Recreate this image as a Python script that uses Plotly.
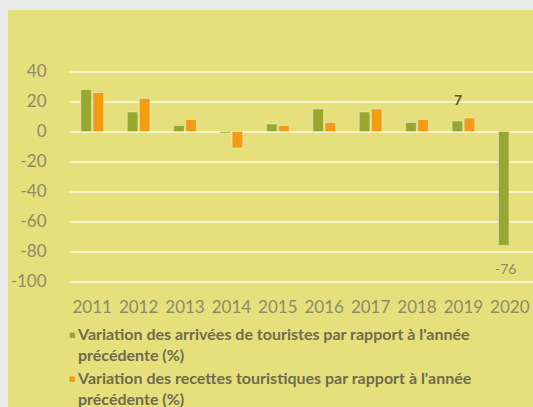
import plotly.graph_objects as go

# Tourism indicators, year-on-year change (%)
years = ["2011", "2012", "2013", "2014", "2015", "2016", "2017", "2018", "2019", "2020"]
arrivals_change = [28, 13, 4, -1, 5, 15, 13, 6, 7, -76]
receipts_change = [26, 22, 8, -11, 4, 6, 15, 8, 9, None]

y_ticks = [40, 20, 0, -20, -40, -60, -80, -100]
y_tick_text = ["40", "20", "0", "-20", "-40", "-60", "-80", "-100"]

legend_arrivals = "Variation des arrivées de touristes par rapport à l'année<br>précédente (%)"
legend_receipts = "Variation des recettes touristiques par rapport à l'année<br>précédente (%)"

GREEN = "#98a82e"
ORANGE = "#f39c12"
PANEL = "#e5e07c"
TICK_COLOR = "#8d8b66"
TEXT_COLOR = "#6e6c4c"
FONT = "Lato"

# plot-area geometry in pixels, used to place the hand-drawn legend
L, T, B, H = 69, 64, 118, 407
PLOT_W, PLOT_H = 533 - L, H - T - B


def px_to_paper(px, py):
    return (px - L) / PLOT_W, (H - B - py) / PLOT_H


fig = go.Figure()
fig.add_trace(go.Bar(x=years, y=arrivals_change, marker_color=GREEN,
                     name="arrivals", showlegend=False))
fig.add_trace(go.Bar(x=years, y=receipts_change, marker_color=ORANGE,
                     name="receipts", showlegend=False))

# yellow panel behind the chart
x0, y1 = px_to_paper(8, 10)
x1, y0 = px_to_paper(540, 420)
fig.add_shape(type="rect", xref="paper", yref="paper",
              x0=x0, x1=x1, y0=y0, y1=y1,
              fillcolor=PANEL, line_width=0, layer="below")

# value labels on the last two arrival bars (category axis: position by index)
i19, i20 = years.index("2019"), years.index("2020")
fig.add_annotation(x=i19, y=arrivals_change[i19], text=str(arrivals_change[i19]),
                   showarrow=False, xshift=-5, yshift=22,
                   font=dict(family=FONT, size=14, color="#5a5838", weight="bold"))
fig.add_annotation(x=i20, y=arrivals_change[i20], text=str(arrivals_change[i20]),
                   showarrow=False, xshift=-4, yshift=-23,
                   font=dict(family=FONT, size=14, color=TICK_COLOR))

# legend drawn as coloured squares and text
legend_rows = [(GREEN, legend_arrivals, 335), (ORANGE, legend_receipts, 379)]
for color, label, py in legend_rows:
    sx, sy = px_to_paper(72, py)
    fig.add_annotation(xref="paper", yref="paper", x=sx, y=sy,
                       text="■", showarrow=False, xanchor="center", yanchor="middle",
                       borderpad=0,
                       font=dict(family="DejaVu Sans", size=7, color=color))
    tx, ty = px_to_paper(76, py - 12)
    fig.add_annotation(xref="paper", yref="paper", x=tx, y=ty,
                       text=label, showarrow=False, xanchor="left", yanchor="top",
                       align="left", borderpad=0,
                       font=dict(family=FONT, size=16, color=TEXT_COLOR, weight="bold"))

fig.update_layout(
    width=533, height=407,
    margin=dict(l=L, r=0, t=T, b=B),
    paper_bgcolor="#e9eceb",
    plot_bgcolor="rgba(0,0,0,0)",
    barmode="group", bargap=0.48, bargroupgap=0.12,
    font=dict(family=FONT),
)
fig.update_xaxes(type="category", categoryorder="array", categoryarray=years,
                 range=[-0.5, len(years) - 0.5],
                 showgrid=False, zeroline=False, showline=False, ticks="outside",
                 ticklen=3, tickcolor="rgba(0,0,0,0)",
                 tickfont=dict(family=FONT, size=17, color=TICK_COLOR))
fig.update_yaxes(range=[-105, 45], tickvals=y_ticks, ticktext=y_tick_text,
                 ticks="outside", ticklen=18, tickcolor="rgba(0,0,0,0)",
                 showgrid=True, gridcolor="#f4f2c8", gridwidth=1.5,
                 zeroline=True, zerolinecolor="#f4f2c8", zerolinewidth=1.5,
                 tickfont=dict(family=FONT, size=17, color=TICK_COLOR))

fig.write_html("out.html")
